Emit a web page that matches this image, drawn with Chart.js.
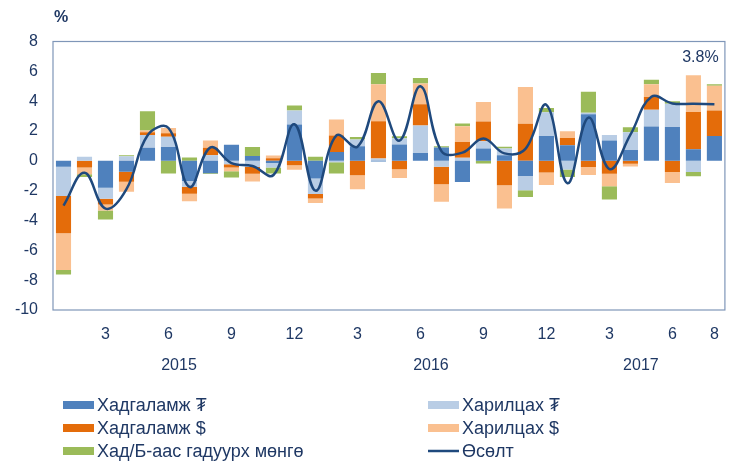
<!DOCTYPE html>
<html>
<head>
<meta charset="utf-8">
<script src="https://cdn.jsdelivr.net/npm/chart.js@4.4.1/dist/chart.umd.min.js"></script>
<style>
  html, body { margin: 0; padding: 0; background: #fff; }
  #wrap { width: 734px; height: 464px; }
</style>
</head>
<body>
<div id="wrap"><canvas id="chart" width="734" height="464"></canvas></div>
<script>
// months 2015.01 - 2017.08
const months = [1, 2, 3, 4, 5, 6, 7, 8, 9, 10, 11, 12,
                1, 2, 3, 4, 5, 6, 7, 8, 9, 10, 11, 12,
                1, 2, 3, 4, 5, 6, 7, 8];
const years = ["2015", "2016", "2017"];

// contributions, percentage points
const savingsMnt = [-0.4, 0, -1.8, -0.73, 0.88, 0.92, -1.36, -0.83, 1.08, 0.32, -0.15, 2.44,
                    -1.18, 0.59, 0.97, -0.05, 1.09, 0.53, 0.89, -1.42, 0.82, 0.37, -1.02, 1.66,
                    1.04, 3.12, 1.37, 0.72, 2.31, 2.26, 0.77, 1.66];
const currentMnt = [-1.96, 0.28, -0.75, 0.3, 0.85, 0.7, -0.37, 0.37, -0.23, -0.42, -0.3, 0.94,
                    -1.05, -0.1, 0.46, 0.15, 0.43, 1.84, -0.4, 0.2, 0.5, 0.45, -0.95, 1.6,
                    -0.58, 0.11, 0.36, 1.2, 1.12, 1.56, -0.75, 0];
const savingsUsd = [-2.5, -0.45, -0.38, -0.67, 0.18, 0.23, -0.48, 0.5, -0.22, -0.45, 0.18, -0.3,
                    -0.3, 1.11, -0.96, 2.5, -0.57, 1.42, -1.17, 1.07, 1.32, -1.63, 2.49, -0.79,
                    0.49, -0.42, -0.86, -0.19, 0.85, -0.75, 2.5, 1.72];
const currentUsd = [-2.46, -0.45, -0.4, -0.67, 0.12, 0.35, -0.5, 0.5, -0.25, -0.52, 0.18, -0.3,
                    -0.3, 1.07, -0.95, 2.48, -0.58, 1.4, -1.18, 1.05, 1.3, -1.56, 2.46, -0.83,
                    0.45, -0.53, -0.85, -0.19, 0.85, -0.73, 2.46, 1.66];
const cashOutside = [-0.3, -0.18, -0.6, 0.08, 1.3, -0.85, 0.22, -0.06, -0.42, 0.6, -0.4, 0.33,
                     0.28, -0.75, 0.17, 0.76, 0.12, 0.36, 0.09, 0.18, -0.18, 0.12, -0.45, 0.28,
                     -0.5, 1.4, -0.89, 0.33, 0.31, 0.17, -0.28, 0.1];
const growth = [-3.0, -0.8, -3.2, -1.9, 1.7, 2.2, -1.75, 0.9, -0.15, -0.35, -0.95, 2.45,
                -2.0, 1.7, 0.95, 4.0, 1.35, 5.0, 0.65, 0.55, 1.5, 0.5, 0.8, 3.75,
                -1.5, 2.9, -0.55, 1.75, 4.3, 3.85, 3.83, 3.8];

const yTicks = [8, 6, 4, 2, 0, -2, -4, -6, -8, -10];

const textColor = "#1f3864";
const fontFamily = "'Liberation Sans', Arial, 'DejaVu Sans', sans-serif";

function barSet(label, data, color) {
  return {
    type: "bar",
    label,
    data,
    backgroundColor: color,
    borderWidth: 0,
    stack: "bars",
    order: 1,
  };
}

// border, year row, unit label, last value, legend
const decor = {
  id: "decor",
  afterDraw(chart) {
    const { ctx, chartArea: a } = chart;
    const x = chart.scales.x;
    ctx.save();
    ctx.strokeStyle = "#7f96b8";
    ctx.lineWidth = 1.2;
    ctx.strokeRect(a.left, a.top, a.right - a.left, a.bottom - a.top);

    ctx.fillStyle = textColor;
    ctx.font = "16px " + fontFamily;
    ctx.textAlign = "center";
    ctx.textBaseline = "middle";
    let start = 0, yi = 0;
    for (let i = 1; i <= months.length; i++) {
      if (i === months.length || months[i] === 1) {
        const cx = (x.getPixelForValue(start) + x.getPixelForValue(i - 1)) / 2;
        ctx.fillText(years[yi++], cx, 366);
        start = i;
      }
    }

    ctx.font = "bold 16px " + fontFamily;
    ctx.fillText("%", 61, 18);

    const meta = chart.getDatasetMeta(5);
    const last = meta.data[meta.data.length - 1];
    ctx.font = "16px " + fontFamily;
    ctx.fillText(growth[growth.length - 1].toFixed(1) + "%", last.x - 14, a.top + 16);

    // legend, two columns
    const colX = [63, 428];
    const rowY = [405, 428, 451];
    ctx.textAlign = "left";
    ctx.font = "18px " + fontFamily;
    chart.data.datasets.forEach((ds, i) => {
      const sx = colX[i % 2], sy = rowY[Math.floor(i / 2)];
      if (ds.type === "line") {
        ctx.strokeStyle = ds.borderColor;
        ctx.lineWidth = 2.5;
        ctx.beginPath();
        ctx.moveTo(sx, sy);
        ctx.lineTo(sx + 31, sy);
        ctx.stroke();
      } else {
        ctx.fillStyle = ds.backgroundColor;
        ctx.fillRect(sx, sy - 4, 31, 8);
      }
      ctx.fillStyle = textColor;
      ctx.fillText(ds.label, sx + 34, sy + 1);
    });
    ctx.restore();
  },
};

new Chart(document.getElementById("chart"), {
  data: {
    labels: months,
    datasets: [
      barSet("Хадгаламж ₮", savingsMnt, "#4f81bd"),
      barSet("Харилцах ₮", currentMnt, "#b9cde5"),
      barSet("Хадгаламж $", savingsUsd, "#e46c0a"),
      barSet("Харилцах $", currentUsd, "#fac090"),
      barSet("Хад/Б-аас гадуурх мөнгө", cashOutside, "#9bbb59"),
      {
        type: "line",
        label: "Өсөлт",
        data: growth,
        borderColor: "#1f497d",
        borderWidth: 2.5,
        pointRadius: 0,
        tension: 0.4,
        fill: false,
        stack: "line",
        order: 0,
      },
    ],
  },
  options: {
    responsive: false,
    animation: false,
    layout: { padding: { top: 41.5, right: 9, left: 0, bottom: 0 } },
    plugins: { legend: { display: false }, tooltip: { enabled: false } },
    scales: {
      x: {
        stacked: true,
        offset: true,
        grid: { display: false, drawTicks: false },
        border: { display: false },
        ticks: {
          autoSkip: false,
          maxRotation: 0,
          padding: 15,
          color: textColor,
          font: { size: 16, family: fontFamily },
          callback: (v, i) => (months[i] % 3 === 0 || i === months.length - 1 ? String(months[i]) : ""),
        },
        afterFit: (s) => { s.height = 154; },
      },
      y: {
        stacked: true,
        min: -10,
        max: 8,
        afterBuildTicks: (s) => { s.ticks = yTicks.map((v) => ({ value: v })); },
        grid: { display: false, drawTicks: false },
        border: { display: false },
        ticks: {
          padding: 15,
          color: textColor,
          font: { size: 16, family: fontFamily },
        },
        afterFit: (s) => { s.width = 53; },
      },
    },
  },
  plugins: [decor],
});
</script>
</body>
</html>
